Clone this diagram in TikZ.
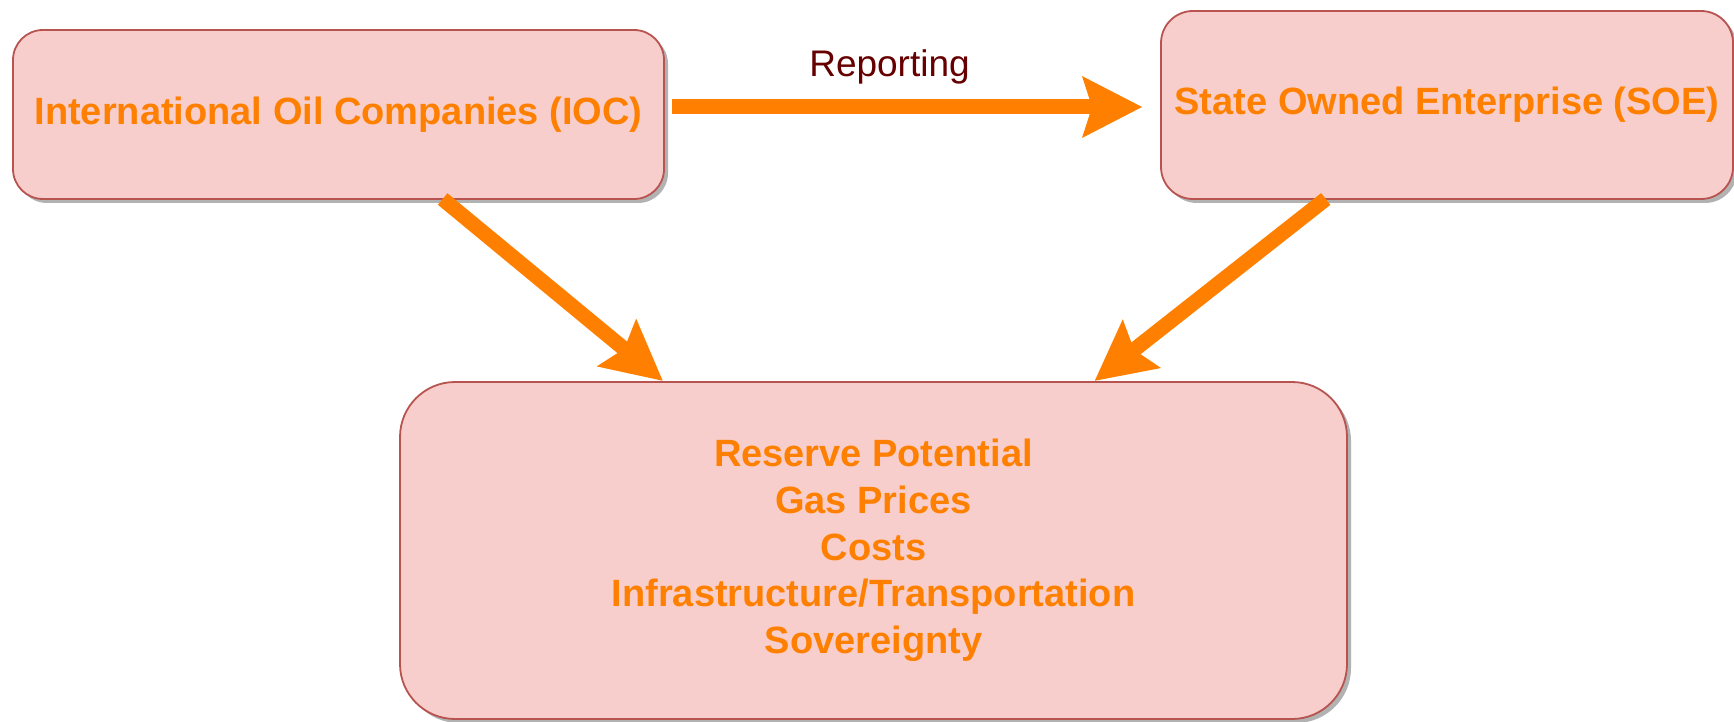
\documentclass[tikz,border=0pt]{standalone}
\usepackage{fontspec}
\setmainfont{Liberation Sans}
\usetikzlibrary{arrows.meta,calc,shadows}

\definecolor{boxfill}{HTML}{F8CECC}
\definecolor{boxline}{HTML}{B85450}
\definecolor{flowcol}{HTML}{FF8000}
\definecolor{labelcol}{HTML}{660000}

\begin{document}
\begin{tikzpicture}[
  x=1pt, y=-1pt,
  box/.style={draw=boxline, fill=boxfill, line width=1.8pt,
    align=center, inner sep=0pt, outer sep=0pt,
    text=flowcol, font=\bfseries\fontsize{38}{46.75}\selectfont,
    drop shadow={shadow xshift=4pt, shadow yshift=-4pt, fill=black, opacity=0.3}},
  flow/.style={draw=flowcol, line width=15pt,
    -{Stealth[length=60pt, width=62pt, inset=10pt, line width=0pt]}},
  lbl/.style={text=labelcol, font=\fontsize{37}{44}\selectfont, inner sep=0pt}
]
\useasboundingbox (0,0) rectangle (1734,722);

% the three parties
\node[box, minimum width=651pt, minimum height=169pt, rounded corners=30pt]
  (ioc) at (338.5,114.5) {International Oil Companies (IOC)};
\node[box, minimum width=572pt, minimum height=188pt, rounded corners=32pt]
  (soe) at (1447,105) {State Owned Enterprise (SOE)};
\node[box, minimum width=947pt, minimum height=337pt, rounded corners=55pt]
  (res) at (873.5,550.5) {Reserve Potential\\Gas Prices\\Costs\\Infrastructure/Transportation\\Sovereignty};

% reporting link
\draw[flow, shorten <=8pt, shorten >=19pt]
  ([yshift=7.5pt]ioc.east) -- ([yshift=-2pt]soe.west);
\node[lbl, anchor=base] (reporting) at (889.5,77) {Reporting};

% both parties feed the factor box
\draw[flow, shorten >=2pt]
  ($(ioc.south west)!0.66!(ioc.south east)$) -- ($(res.north west)!0.279!(res.north east)$);
\draw[flow, shorten >=2pt]
  ($(soe.south west)!0.288!(soe.south east)$) -- ($(res.north west)!0.732!(res.north east)$);
\end{tikzpicture}
\end{document}
